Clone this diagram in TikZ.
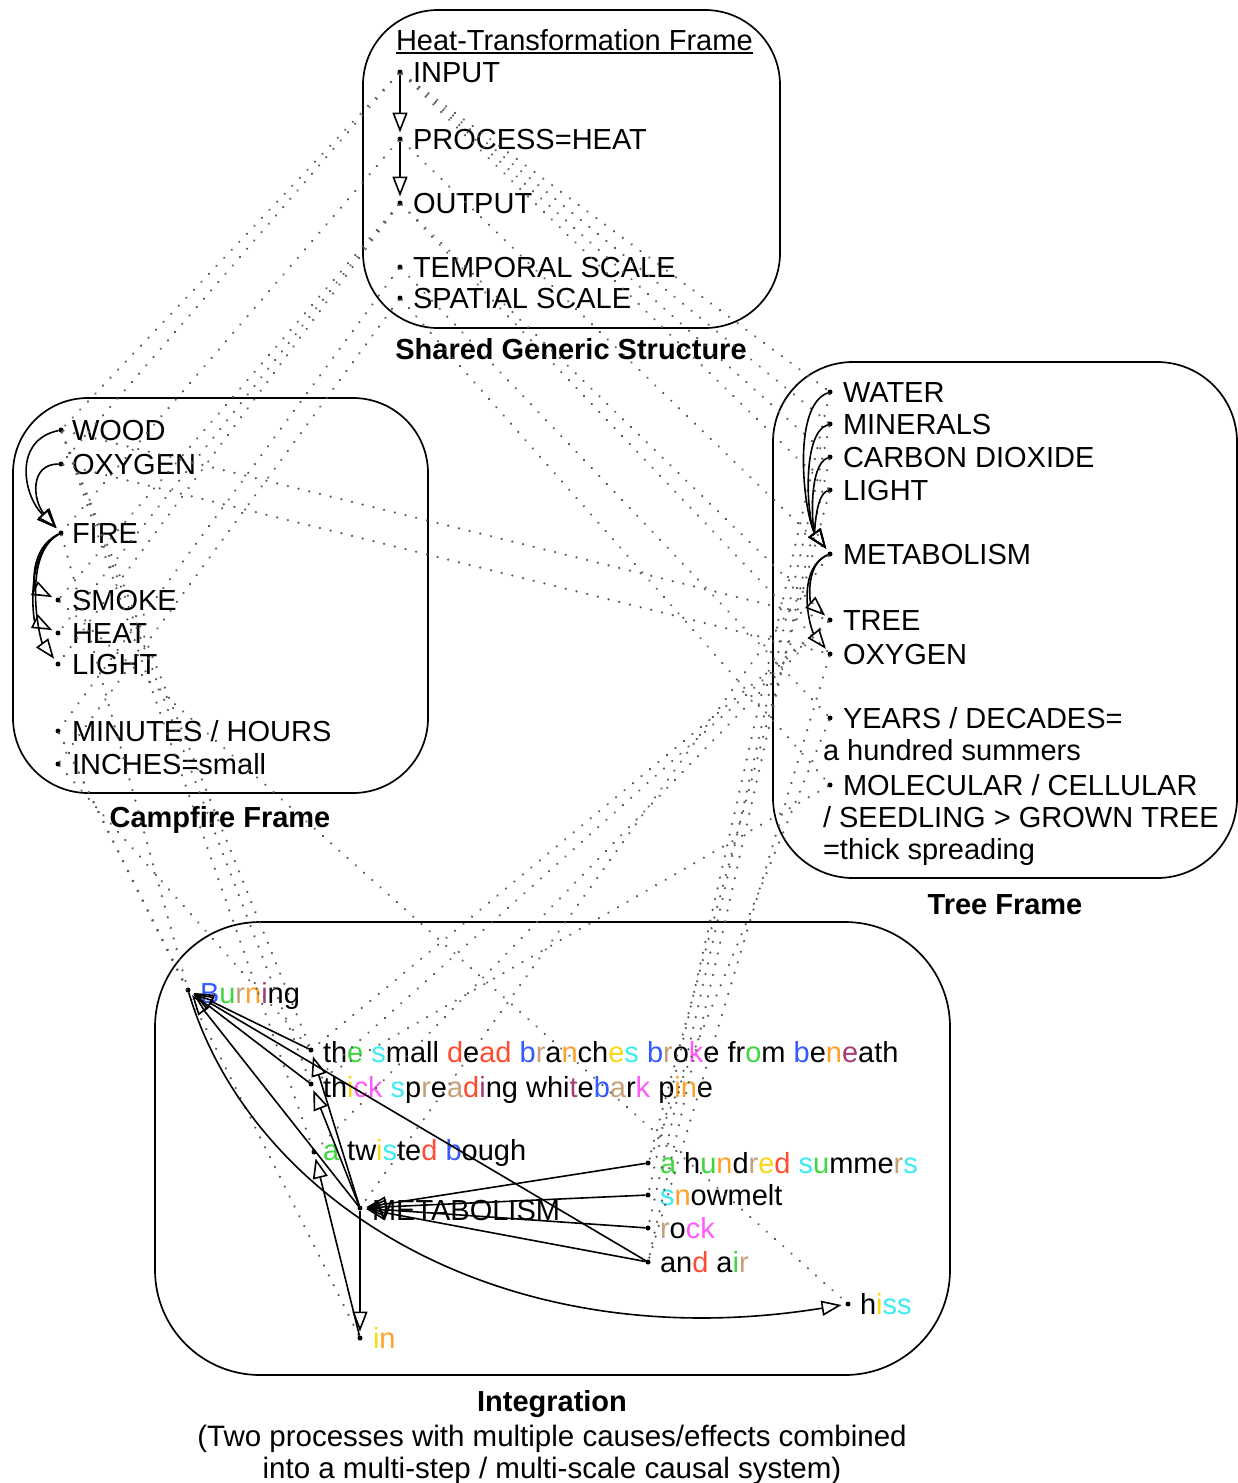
\documentclass[tikz,border=0pt]{standalone}
\usepackage{fontspec}
\setmainfont{Liberation Sans}
\usetikzlibrary{arrows.meta}
\definecolor{cb}{RGB}{50,90,255}
\definecolor{cg}{RGB}{60,215,60}
\definecolor{cc}{RGB}{60,235,240}
\definecolor{cr}{RGB}{255,75,50}
\definecolor{co}{RGB}{255,160,40}
\definecolor{ct}{RGB}{195,160,120}
\definecolor{cy}{RGB}{250,215,20}
\definecolor{cm}{RGB}{255,90,255}
\definecolor{cp}{RGB}{165,60,115}
\newcommand{\lc}[2]{\textcolor{#1}{#2}}
\begin{document}
\begin{tikzpicture}[x=1pt,y=-1pt,
  every node/.style={inner sep=0pt, outer sep=0pt},
  txt/.style={anchor=base west, font=\fontsize{29}{34}\selectfont},
  lbl/.style={anchor=base, font=\fontsize{29}{34}\selectfont\bfseries},
  captxt/.style={anchor=base, font=\fontsize{29.5}{34}\selectfont},
  pt/.style={circle, fill=black, minimum size=5pt},
  frame/.style={line width=1.7pt},
  link/.style={line width=1.6pt, -{Triangle[open,length=20pt,width=15pt,line width=1.6pt]}, shorten >=4pt},
  corr/.style={line width=2.5pt, black!65, dash pattern=on 0.01pt off 11pt, line cap=round}]

\useasboundingbox (0,0) rectangle (1238,1483);

% ---------- frames ----------
\draw[frame, rounded corners=75pt] (363,10) rectangle (780,328);
\draw[frame, rounded corners=75pt] (13,398) rectangle (428,793);
\draw[frame, rounded corners=80pt] (773,362) rectangle (1237,878);
\draw[frame, rounded corners=105pt] (155,922) rectangle (950,1375);

% ---------- generic structure ----------
\node[txt] (gtitle) at (396,50) {Heat-Transformation Frame};
\draw[line width=1.5pt] ([yshift=-3pt]gtitle.base west) -- ([yshift=-3pt]gtitle.base east);
\node[pt] (gIn)   at (400,72)  {};
\node[pt] (gProc) at (400,139) {};
\node[pt] (gOut)  at (400,203) {};
\node[pt] (gTemp) at (400,267) {};
\node[pt] (gSpat) at (400,298) {};
\node[txt] (gInT)   at (413,82)  {INPUT};
\node[txt] (gProcT) at (413,149) {PROCESS=HEAT};
\node[txt] (gOutT)  at (413,213) {OUTPUT};
\node[txt] (gTempT) at (413,277) {TEMPORAL SCALE};
\node[txt] (gSpatT) at (413,308) {SPATIAL SCALE};
\node[lbl] (glbl) at (571,359) {Shared Generic Structure};

% ---------- campfire frame ----------
\node[pt] (cWood)  at (61,430) {};
\node[pt] (cOxy)   at (61,464) {};
\node[pt] (cFire)  at (61,533) {};
\node[pt] (cSmoke) at (58,600) {};
\node[pt] (cHeat)  at (58,633) {};
\node[pt] (cLight) at (58,664) {};
\node[pt] (cMin)   at (58,731) {};
\node[pt] (cInch)  at (58,764) {};
\node[txt] at (72,440) {WOOD};
\node[txt] at (72,474) {OXYGEN};
\node[txt] at (72,543) {FIRE};
\node[txt] at (72,610) {SMOKE};
\node[txt] at (72,643) {HEAT};
\node[txt] at (72,674) {LIGHT};
\node[txt] at (72,741) {MINUTES / HOURS};
\node[txt] at (72,774) {INCHES=small};
\node[lbl] (clbl) at (220,827) {Campfire Frame};

% ---------- tree frame ----------
\node[pt] (tWater) at (830,392) {};
\node[pt] (tMin)   at (830,424) {};
\node[pt] (tCO)    at (830,457) {};
\node[pt] (tLight) at (830,490) {};
\node[pt] (tMetab) at (830,554) {};
\node[pt] (tTree)  at (830,620) {};
\node[pt] (tOxy)   at (830,654) {};
\node[pt] (tYears) at (830,718) {};
\node[pt] (tMolec) at (830,785) {};
\node[txt] at (843,402) {WATER};
\node[txt] at (843,434) {MINERALS};
\node[txt] at (843,467) {CARBON DIOXIDE};
\node[txt] at (843,500) {LIGHT};
\node[txt] at (843,564) {METABOLISM};
\node[txt] at (843,630) {TREE};
\node[txt] at (843,664) {OXYGEN};
\node[txt] at (843,728) {YEARS / DECADES=};
\node[txt] at (823,760) {a hundred summers};
\node[txt] at (843,795) {MOLECULAR / CELLULAR};
\node[txt] at (823,827) {/ SEEDLING > GROWN TREE};
\node[txt] at (823,859) {=thick spreading};
\node[lbl] (tlbl) at (1005,914) {Tree Frame};

% ---------- integration ----------
\node[pt] (iBurn)  at (188,990)  {};
\node[pt] (iSmall) at (311,1050) {};
\node[pt] (iThick) at (311,1084) {};
\node[pt] (iBough) at (314,1152) {};
\node[pt] (iMetab) at (360,1208) {};
\node[pt] (iIn)    at (360,1338) {};
\node[pt] (iHund)  at (648,1163) {};
\node[pt] (iSnow)  at (648,1195) {};
\node[pt] (iRock)  at (648,1228) {};
\node[pt] (iAir)   at (648,1262) {};
\node[pt] (iHiss)  at (848,1304) {};
\node[txt] at (200,1003) {\lc{cb}{B}\lc{cg}{u}\lc{ct}{r}\lc{co}{n}\lc{cp}{i}ng};
\node[txt] at (323,1062) {th\lc{cg}{e} \lc{cc}{s}mall \lc{cr}{d}e\lc{cr}{a}\lc{cr}{d} \lc{cb}{b}\lc{ct}{r}a\lc{co}{n}ch\lc{cy}{e}\lc{cc}{s} \lc{cb}{b}\lc{ct}{r}o\lc{cm}{k}e fr\lc{cg}{o}m \lc{cb}{b}e\lc{co}{n}\lc{cp}{e}ath};
\node[txt] at (323,1097) {th\lc{cy}{i}\lc{cm}{ck} \lc{cc}{s}p\lc{ct}{r}e\lc{ct}{a}\lc{cr}{d}\lc{cp}{i}ng whi\lc{cp}{t}e\lc{cb}{b}\lc{ct}{a}r\lc{cm}{k} p\lc{co}{in}e};
\node[txt] at (323,1160) {\lc{cg}{a} tw\lc{cy}{i}\lc{cc}{s}te\lc{cr}{d} \lc{cb}{b}ough};
\node[txt] at (372,1220) {METABOLISM};
\node[txt] at (660,1173) {\lc{cg}{a} h\lc{cg}{u}\lc{co}{n}d\lc{ct}{r}\lc{cy}{e}\lc{cr}{d} \lc{cc}{s}\lc{cg}{u}mme\lc{ct}{r}\lc{cc}{s}};
\node[txt] at (660,1205) {\lc{cc}{s}\lc{co}{n}owmelt};
\node[txt] at (660,1238) {\lc{ct}{r}o\lc{cm}{ck}};
\node[txt] at (660,1272) {an\lc{cr}{d} a\lc{cg}{i}\lc{ct}{r}};
\node[txt] at (860,1314) {h\lc{cy}{i}\lc{cc}{ss}};
\node[txt] at (373,1348) {\lc{cy}{i}\lc{co}{n}};
\node[lbl] (ilbl) at (552,1411) {Integration};
\node[captxt] (icap1) at (552,1446) {(Two processes with multiple causes/effects combined};
\node[captxt] (icap2) at (552,1478) {into a multi-step / multi-scale causal system)};

% ---------- correspondences (dotted) ----------
\foreach \a/\b in {gIn/cWood, gIn/cOxy, gProc/cFire, gOut/cSmoke, gOut/cHeat, gOut/cLight,
                   gTemp/cMin, gSpat/cInch,
                   gIn/tWater, gIn/tMin, gIn/tCO, gIn/tLight, gProc/tMetab, gOut/tTree,
                   gOut/tOxy, gTemp/tYears, gSpat/tMolec,
                   cWood/tTree, cOxy/tOxy,
                   cFire/iBurn, cMin/iBurn, cMin/iIn, cWood/iSmall, cWood/iThick, cWood/iBough,
                   cSmoke/iHiss, cInch/iSmall,
                   tWater/iSnow, tMin/iRock, tCO/iAir, tLight/iHund, tMetab/iMetab,
                   tTree/iSmall, tTree/iThick, tTree/iBough, tYears/iHund, tMolec/iThick, tOxy/iAir}
  \draw[corr] (\a) -- (\b);

% ---------- causal links: generic ----------
\draw[link] (gIn) -- (gProc);
\draw[link] (gProc) -- (gOut);

% ---------- causal links: campfire ----------
\draw[link] (cWood) .. controls +(-48,10) and +(-38,-38) .. (cFire);
\draw[link] (cOxy) .. controls +(-32,0) and +(-28,-32) .. (cFire);
\draw[link] (cFire) .. controls +(-32,15) and +(-24,-12) .. (cSmoke);
\draw[link] (cFire) .. controls +(-37,20) and +(-24,-12) .. (cHeat);
\draw[link] (cFire) .. controls +(-40,22) and +(-18,-24) .. (cLight);

% ---------- causal links: tree ----------
\draw[link] (tWater) .. controls +(-40,15) and +(-25,-35) .. (tMetab);
\draw[link] (tMin) .. controls +(-30,10) and +(-22,-30) .. (tMetab);
\draw[link] (tCO) .. controls +(-22,8) and +(-18,-25) .. (tMetab);
\draw[link] (tLight) .. controls +(-15,5) and +(-15,-20) .. (tMetab);
\draw[link] (tMetab) .. controls +(-25,10) and +(-20,-18) .. (tTree);
\draw[link] (tMetab) .. controls +(-35,15) and +(-20,-25) .. (tOxy);

% ---------- causal links: integration ----------
\draw[link] (iSmall) -- (iBurn);
\draw[link] (iThick) -- (iBurn);
\draw[link] (iMetab) -- (iBurn);
\draw[link] (iAir) -- (iBurn);
\draw[link] (iBurn) .. controls (250,1200) and (500,1360) .. (iHiss);
\draw[link] (iMetab) -- (iSmall);
\draw[link] (iMetab) -- (iThick);
\draw[link] (iIn) -- (iBough);
\draw[link] (iMetab) -- (iIn);
\foreach \s in {iHund, iSnow, iRock, iAir}
  \draw[link] (\s) -- (iMetab);
\end{tikzpicture}
\end{document}
